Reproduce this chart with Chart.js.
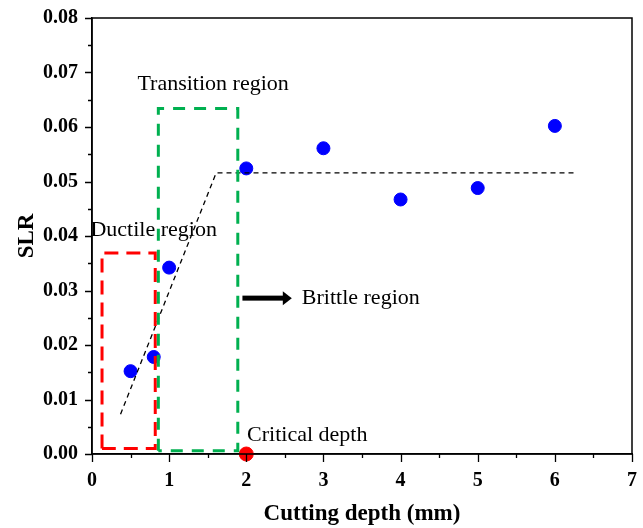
<!DOCTYPE html>
<html>
<head>
<meta charset="utf-8">
<script src="https://cdn.jsdelivr.net/npm/chart.js@4"></script>
<style>
  body { margin: 0; background: #fff; }
  canvas { display: block; }
</style>
</head>
<body>
<canvas id="grafico" width="643" height="528"></canvas>
<script>
  // valores
  const profundidade = [0.5, 0.8, 1, 2, 3, 4, 5, 6];
  const slr = [0.0152, 0.0178, 0.0342, 0.0524, 0.0561, 0.0467, 0.0488, 0.0602];
  const criticoX = [2];
  const criticoY = [0];
  const tendenciaX = [0.37, 1.61, 6.29];
  const tendenciaY = [0.0073, 0.0516, 0.0516];
  const ductilX = [0.13, 0.82];
  const ductilY = [0.001, 0.0369];
  const transicaoX = [0.86, 1.89];
  const transicaoY = [0.0006, 0.0634];
  const xTicks = [0, 1, 2, 3, 4, 5, 6, 7];
  const yTicks = [0, 0.01, 0.02, 0.03, 0.04, 0.05, 0.06, 0.07, 0.08];

  const pares = (xs, ys) => xs.map((x, i) => ({ x, y: ys[i] }));
  const caixa = (xs, ys) => [
    { x: xs[0], y: ys[0] }, { x: xs[0], y: ys[1] }, { x: xs[1], y: ys[1] },
    { x: xs[1], y: ys[0] }, { x: xs[0], y: ys[0] }
  ];

  const serif = "'Liberation Serif', 'Times New Roman', serif";

  // marcas dos eixos, moldura e textos
  const extras = {
    id: 'extras',
    afterDatasetsDraw(chart) {
      const { ctx, chartArea: a, scales: { x, y } } = chart;
      ctx.save();
      ctx.strokeStyle = '#000';
      ctx.lineWidth = 1.5;
      ctx.strokeRect(a.left, a.top, a.right - a.left, a.bottom - a.top);
      ctx.lineWidth = 1.3;
      ctx.beginPath();
      for (let v = 0; v <= 7.001; v += 0.5) {
        const px = Math.round(x.getPixelForValue(v)) + 0.5;
        const len = Math.abs(v - Math.round(v)) < 1e-6 ? 8 : 4;
        ctx.moveTo(px, a.bottom); ctx.lineTo(px, a.bottom + len);
      }
      for (let i = 0; i <= 16; i++) {
        const py = Math.round(y.getPixelForValue(i * 0.005)) + 0.5;
        const len = i % 2 === 0 ? 7 : 4;
        ctx.moveTo(a.left, py); ctx.lineTo(a.left - len, py);
      }
      ctx.stroke();

      ctx.fillStyle = '#000';
      ctx.font = '22px ' + serif;
      ctx.textBaseline = 'middle';
      ctx.textAlign = 'center';
      ctx.fillText('Transition region', x.getPixelForValue(1.57), y.getPixelForValue(0.0679));
      ctx.textAlign = 'left';
      ctx.fillText('Ductile region', x.getPixelForValue(-0.02), y.getPixelForValue(0.0411));
      ctx.fillText('Brittle region', x.getPixelForValue(2.72), y.getPixelForValue(0.0286));
      ctx.fillText('Critical depth', x.getPixelForValue(2.01), y.getPixelForValue(0.0035));

      // seta
      const x0 = x.getPixelForValue(1.95), x1 = x.getPixelForValue(2.59);
      const yc = y.getPixelForValue(0.0286);
      ctx.fillRect(x0, yc - 2.5, x1 - x0 - 8, 5);
      ctx.beginPath();
      ctx.moveTo(x1 - 9, yc - 7); ctx.lineTo(x1, yc); ctx.lineTo(x1 - 9, yc + 7);
      ctx.closePath();
      ctx.fill();
      ctx.restore();
    }
  };

  const ctx = document.getElementById('grafico').getContext('2d');
  const grafico = new Chart(ctx, {
    type: 'scatter',
    data: {
      datasets: [
        {
          type: 'line', data: caixa(transicaoX, transicaoY),
          borderColor: '#00b050', borderWidth: 3, borderDash: [12, 9],
          pointRadius: 0, fill: false, tension: 0
        },
        {
          type: 'line', data: caixa(ductilX, ductilY),
          borderColor: '#ff0000', borderWidth: 3, borderDash: [14, 8],
          pointRadius: 0, fill: false, tension: 0
        },
        {
          type: 'line', data: pares(tendenciaX, tendenciaY),
          borderColor: '#000', borderWidth: 1.3, borderDash: [5, 4],
          pointRadius: 0, fill: false, tension: 0
        },
        {
          data: pares(profundidade, slr),
          backgroundColor: '#0000ff', borderColor: '#0000ff',
          pointRadius: 6.5, pointHoverRadius: 6.5
        },
        {
          data: pares(criticoX, criticoY), clip: false,
          backgroundColor: '#ff0000', borderColor: '#ff0000',
          pointRadius: 7, pointHoverRadius: 7
        }
      ]
    },
    options: {
      responsive: false,
      animation: false,
      layout: { padding: { top: 18, right: 11, left: 0, bottom: 0 } },
      plugins: { legend: { display: false }, tooltip: { enabled: false } },
      scales: {
        x: {
          type: 'linear', min: 0, max: 7,
          afterBuildTicks: s => { s.ticks = xTicks.map(v => ({ value: v })); },
          afterFit: s => { s.height = 74; s.paddingLeft = 0; s.paddingRight = 0; },
          grid: { display: false, drawTicks: false },
          border: { display: true, color: '#000', width: 1.5 },
          ticks: {
            color: '#000', padding: 15,
            font: { family: serif, size: 20, weight: 'bold' }
          },
          title: {
            display: true, text: 'Cutting depth (mm)', color: '#000',
            font: { family: serif, size: 23, weight: 'bold' },
            padding: { top: 0, bottom: 0 }
          }
        },
        y: {
          type: 'linear', min: 0, max: 0.08,
          afterBuildTicks: s => { s.ticks = yTicks.map(v => ({ value: v })); },
          afterFit: s => { s.width = 92; s.paddingTop = 0; s.paddingBottom = 0; },
          grid: { display: false, drawTicks: false },
          border: { display: true, color: '#000', width: 1.5 },
          ticks: {
            color: '#000', padding: 14,
            font: { family: serif, size: 20, weight: 'bold' },
            callback: v => v.toFixed(2)
          },
          title: {
            display: true, text: 'SLR', color: '#000',
            font: { family: serif, size: 23, weight: 'bold' },
            padding: { top: 13, bottom: 0 }
          }
        }
      }
    },
    plugins: [extras]
  });
</script>
</body>
</html>
